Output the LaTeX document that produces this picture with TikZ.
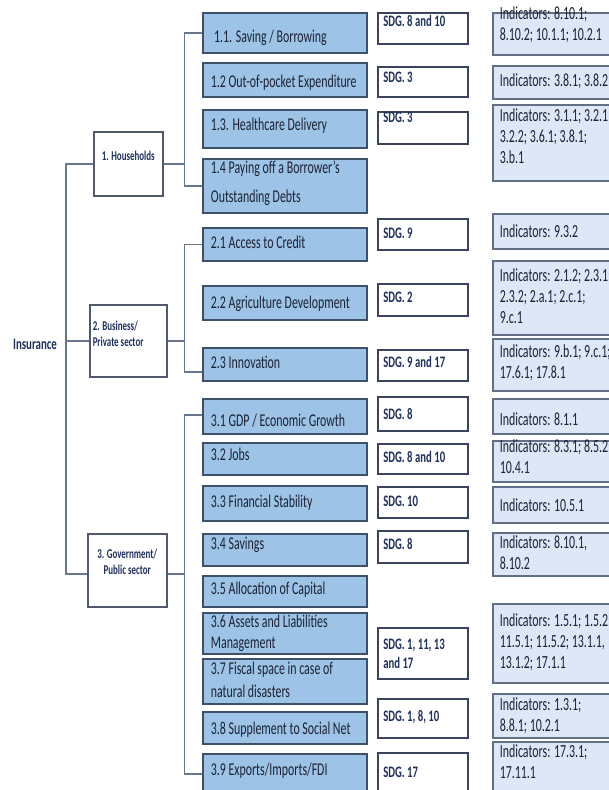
\documentclass[tikz,border=0pt]{standalone}
\usepackage{fontspec}
\setmainfont{Carlito}
\usepackage{graphicx}
\definecolor{bfill}{RGB}{157,195,230}
\definecolor{ifill}{RGB}{221,231,245}
\definecolor{bbord}{RGB}{62,79,106}
\definecolor{sbord}{RGB}{58,68,94}
\definecolor{ibord}{RGB}{98,112,134}
\definecolor{cbord}{RGB}{80,90,108}
\definecolor{connc}{RGB}{104,118,142}
\definecolor{txtc}{RGB}{28,34,52}
\definecolor{navyc}{RGB}{31,48,92}
% #1 width, #2 alignment, #3 horizontal squeeze, #4 downward offset of the text from the box centre, #5 text
\newcommand\boxtxt[5]{\makebox[#1][#2]{\raisebox{\dimexpr-4.7pt-(#4pt)\relax}[0pt][0pt]{\scalebox{#3}[1]{\begin{tabular}{@{}#2@{}}#5\end{tabular}}}}}
\newcommand\bluet[2][0]{\boxtxt{148pt}{l}{0.66}{#1}{#2}}
\newcommand\sdgt[2][0]{\boxtxt{79pt}{l}{0.67}{#1}{#2}}
\newcommand\indt[2][0]{\boxtxt{140pt}{l}{0.643}{#1}{#2}}
\begin{document}
\begin{tikzpicture}[x=1pt,y=-1pt,
  bluebox/.style={draw=bbord, line width=1.8pt, fill=bfill, anchor=north west,
    inner xsep=8pt, inner ysep=0pt, minimum width=164pt, text=txtc,
    font=\fontsize{18}{21}\selectfont},
  sdgbox/.style={draw=sbord, line width=1.6pt, fill=white, anchor=north west,
    inner xsep=5.5pt, inner ysep=0pt, minimum width=90pt, text=navyc,
    font=\bfseries\fontsize{16}{18.5}\selectfont},
  indbox/.style={draw=ibord, line width=1.6pt, fill=ifill, anchor=north west,
    inner xsep=7pt, inner ysep=0pt, minimum width=154pt, text=txtc,
    font=\fontsize{18.5}{21}\selectfont},
  catbox/.style={draw=cbord, line width=1.5pt, fill=white, anchor=north west,
    inner xsep=3pt, inner ysep=0pt, text=navyc,
    font=\bfseries\fontsize{13.5}{16}\selectfont},
  conn/.style={draw=connc, line width=1.5pt}]
\useasboundingbox (0,0) rectangle (609,790);
\begin{scope}
\clip (0,0) rectangle (609,790);
\fill[white] (0,0) rectangle (609,790);

% root
\node[font=\bfseries\fontsize{16}{18}\selectfont, text=navyc, inner sep=0pt] (ins) at (35,344) {\scalebox{0.68}[1]{Insurance}};

% categories
\node[catbox, minimum width=69pt, minimum height=64pt] (hh) at (93,131)
  {\boxtxt{63pt}{c}{0.66}{-8}{1. Households}};
\node[catbox, minimum width=77pt, minimum height=72pt] (biz) at (89,304)
  {\boxtxt{71pt}{l}{0.66}{-7}{2. Business/\\Private sector}};
\node[catbox, minimum width=79pt, minimum height=73pt] (gov) at (87,533)
  {\boxtxt{73pt}{c}{0.66}{-8.5}{3. Government/\\Public sector}};

% blue boxes
\node[bluebox, minimum height=40pt] (b11) at (202,12) {\bluet[5]{\hspace{5pt}1.1. Saving / Borrowing}};
\node[bluebox, minimum height=34pt] (b12) at (202,62) {\bluet[3]{1.2 Out-of-pocket Expenditure}};
\node[bluebox, minimum height=38pt] (b13) at (202,109) {\bluet[-3]{1.3. Healthcare Delivery}};
\node[bluebox, minimum height=54pt] (b14) at (202,158) {\bluet[-2.5]{1.4 Paying off a Borrower's\\[8pt]Outstanding Debts}};
\node[bluebox, minimum height=33pt] (b21) at (202,227) {\bluet{2.1 Access to Credit}};
\node[bluebox, minimum height=34pt] (b22) at (202,285) {\bluet[1]{2.2 Agriculture Development}};
\node[bluebox, minimum height=33pt] (b23) at (202,347) {\bluet{2.3 Innovation}};
\node[bluebox, minimum height=35pt] (b31) at (202,398) {\bluet[6]{3.1 GDP / Economic Growth}};
\node[bluebox, minimum height=32pt] (b32) at (202,442) {\bluet[-3]{3.2 Jobs}};
\node[bluebox, minimum height=35pt] (b33) at (202,485) {\bluet{3.3 Financial Stability}};
\node[bluebox, minimum height=32pt] (b34) at (202,533) {\bluet[-5]{3.4 Savings}};
\node[bluebox, minimum height=31pt] (b35) at (202,575) {\bluet[-1.5]{3.5 Allocation of Capital}};
\node[bluebox, minimum height=41pt] (b36) at (202,612) {\bluet{3.6 Assets and Liabilities\\Management}};
\node[bluebox, minimum height=45pt] (b37) at (202,658) {\bluet{3.7 Fiscal space in case of\\[2pt]natural disasters}};
\node[bluebox, minimum height=32pt] (b38) at (202,711) {\bluet[2]{3.8 Supplement to Social Net}};
\node[bluebox, minimum height=40pt] (b39) at (202,753) {\bluet[-3]{3.9 Exports/Imports/FDI}};

% SDG boxes
\node[sdgbox, minimum height=31pt] (s11) at (377,12) {\sdgt[-5.5]{SDG. 8 and 10}};
\node[sdgbox, minimum height=30pt] (s12) at (377,66) {\sdgt[-3]{SDG. 3}};
\node[sdgbox, minimum height=32pt] (s13) at (377,111) {\sdgt[-9]{SDG. 3}};
\node[sdgbox, minimum height=31pt] (s21) at (377,218) {\sdgt{SDG. 9}};
\node[sdgbox, minimum height=32pt] (s22) at (377,283) {\sdgt[-1]{SDG. 2}};
\node[sdgbox, minimum height=31pt] (s23) at (377,349) {\sdgt[-1.5]{SDG. 9 and 17}};
\node[sdgbox, minimum height=34pt] (s31) at (377,396) {\sdgt[2]{SDG. 8}};
\node[sdgbox, minimum height=30pt] (s32) at (377,443) {\sdgt{SDG. 8 and 10}};
\node[sdgbox, minimum height=31pt] (s33) at (377,486) {\sdgt{SDG. 10}};
\node[sdgbox, minimum height=32pt] (s34) at (377,530) {\sdgt[-1]{SDG. 8}};
\node[sdgbox, minimum height=51pt] (s36) at (377,627) {\sdgt[1.5]{SDG. 1, 11, 13\\and 17}};
\node[sdgbox, minimum height=39pt] (s38) at (377,698) {\sdgt[-0.5]{SDG. 1, 8, 10}};
\node[sdgbox, minimum height=41pt] (s39) at (377,752) {\sdgt{SDG. 17}};

% indicator boxes
\node[indbox, minimum height=42pt] (i11) at (492,12) {\indt[-8]{Indicators: 8.10.1;\\8.10.2; 10.1.1; 10.2.1}};
\node[indbox, minimum height=33pt] (i12) at (492,65) {\indt{Indicators: 3.8.1; 3.8.2}};
\node[indbox, minimum height=76pt] (i13) at (492,104) {\indt[-5]{Indicators: 3.1.1; 3.2.1\\3.2.2; 3.6.1; 3.8.1;\\3.b.1}};
\node[indbox, minimum height=35pt] (i21) at (492,213) {\indt[1.5]{Indicators: 9.3.2}};
\node[indbox, minimum height=74pt] (i22) at (492,260) {\indt{Indicators: 2.1.2; 2.3.1;\\2.3.2; 2.a.1; 2.c.1;\\9.c.1}};
\node[indbox, minimum height=52pt] (i23) at (492,338) {\indt[-1]{Indicators: 9.b.1; 9.c.1;\\17.6.1; 17.8.1}};
\node[indbox, minimum height=35pt] (i31) at (492,398) {\indt[4.5]{Indicators: 8.1.1}};
\node[indbox, minimum height=41pt] (i32) at (492,440) {\indt[-2.5]{Indicators: 8.3.1; 8.5.2;\\10.4.1}};
\node[indbox, minimum height=36pt] (i33) at (492,486) {\indt[2]{Indicators: 10.5.1}};
\node[indbox, minimum height=43pt] (i34) at (492,532) {\indt{Indicators: 8.10.1,\\8.10.2}};
\node[indbox, minimum height=79pt] (i36) at (492,603) {\indt{Indicators: 1.5.1; 1.5.2;\\11.5.1; 11.5.2; 13.1.1,\\13.1.2; 17.1.1}};
\node[indbox, minimum height=44pt] (i38) at (492,693) {\indt[1]{Indicators: 1.3.1;\\8.8.1; 10.2.1}};
\node[indbox, minimum height=52pt] (i39) at (492,741) {\indt[-4]{Indicators: 17.3.1;\\17.11.1}};

% connectors
\coordinate (tr) at (66,0);
\coordinate (jn) at (184.5,0);
\draw[conn] (hh.west) -- (hh.west -| tr) -- ([yshift=-3.5pt]gov.west -| tr) -- ([yshift=-3.5pt]gov.west);
\draw[conn] (biz.west) -- (biz.west -| tr);
\draw[conn] (hh.east) -- (hh.east -| jn);
\draw[conn] (b11.west) -- (b11.west -| jn) -- (b14.west -| jn) -- (b14.west);
\draw[conn] (biz.east) -- (biz.east -| jn);
\draw[conn] (b21.west) -- (b21.west -| jn) -- ([yshift=-7.5pt]b23.west -| jn) -- ([yshift=-7.5pt]b23.west);
\draw[conn] ([yshift=-3.5pt]gov.east) -- ([yshift=-3.5pt]gov.east -| jn);
\draw[conn] ([yshift=1.5pt]b31.west) -- ([yshift=1.5pt]b31.west -| jn) -- (b39.west -| jn) -- (b39.west);
\end{scope}
\end{tikzpicture}
\end{document}
